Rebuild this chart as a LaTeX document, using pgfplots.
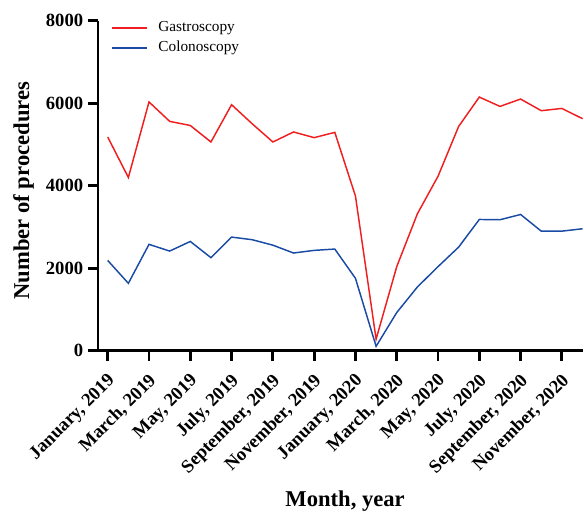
\documentclass[border=0pt]{standalone}
\usepackage{pgfplots}
\pgfplotsset{compat=1.18}
\usepackage{fontspec}
\setmainfont{Liberation Serif}
\definecolor{gred}{RGB}{240,30,30}
\definecolor{cblue}{RGB}{25,75,165}
\pgfplotstableread{
idx gastro colon
0 5180 2190
1 4200 1636
2 6030 2580
3 5560 2417
4 5460 2650
5 5060 2257
6 5963 2756
7 5500 2692
8 5060 2560
9 5302 2370
10 5165 2434
11 5293 2466
12 3750 1757
13 283 110
14 2040 928
15 3320 1547
16 4230 2040
17 5438 2514
18 6148 3183
19 5922 3176
20 6100 3304
21 5818 2900
22 5873 2900
23 5624 2958
}\datatable
\begin{document}
\begin{tikzpicture}
\begin{axis}[
  scale only axis, width=364.3pt, height=248.3pt,
  xmin=-0.47, xmax=23, ymin=0, ymax=8000,
  axis lines=left,
  axis line style={line width=2.2pt, -},
  clip=false,
  xtick={0,2,...,22},
  xticklabels={{January, 2019},{March, 2019},{May, 2019},{July, 2019},{September, 2019},{November, 2019},{January, 2020},{March, 2020},{May, 2020},{July, 2020},{September, 2020},{November, 2020}},
  x tick label style={xshift=-1pt, yshift=-8.5pt, rotate=45, anchor=north east, font=\bfseries\fontsize{14}{14}\selectfont, inner sep=0pt},
  ytick={0,2000,4000,6000,8000},
  y tick label style={font=\bfseries\fontsize{14}{14}\selectfont, inner sep=0pt, anchor=east, xshift=-3.5pt},
  /pgf/number format/assume math mode=true,
  /pgf/number format/set thousands separator={},
  tick style={line width=2.2pt, black},
  major tick length=7.5pt,
  tick align=outside,
  xlabel={Month, year},
  ylabel={Number of procedures},
  every axis x label/.style={at={([yshift=-117pt]axis description cs:0.51,0)}, anchor=base, font=\bfseries\fontsize{17}{17}\selectfont},
  every axis y label/.style={at={([xshift=-56pt]axis description cs:0,0.485)}, anchor=center, rotate=90, font=\bfseries\fontsize{17}{17}\selectfont},
  legend style={draw=none, fill=none, at={([xshift=10.3pt]axis description cs:0,1)}, anchor=north west, inner sep=0pt, outer sep=0pt, font=\fontsize{11.5}{11.5}\selectfont, nodes={inner sep=0pt, text height=8pt, text depth=3pt}, column sep=8pt, row sep=4pt},
  legend cell align=left,
  legend image code/.code={\draw[#1] (0pt,0pt) -- (26pt,0pt);},
]
\addplot[gred, line width=1.1pt] table[x=idx, y=gastro] {\datatable};
\addlegendentry{Gastroscopy}
\addplot[cblue, line width=1.1pt] table[x=idx, y=colon] {\datatable};
\addlegendentry{Colonoscopy}
\end{axis}
\path (current axis.south west) ++(-73.7pt,-120.2pt);
\path (current axis.south west) ++(364.3pt,263.8pt);
\end{tikzpicture}
\end{document}
